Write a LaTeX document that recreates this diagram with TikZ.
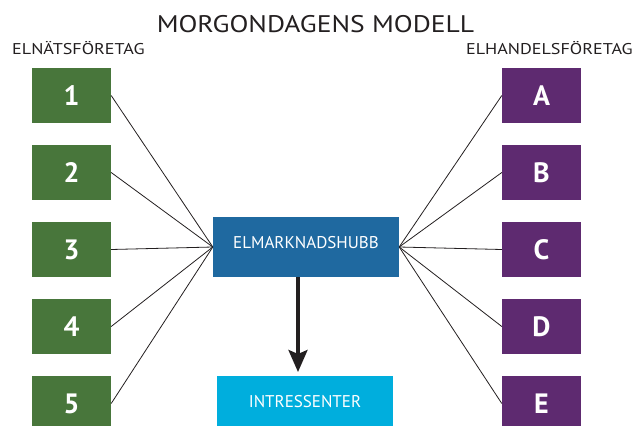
\documentclass[tikz,border=0pt]{standalone}
\usepackage{fontspec}
\setmainfont{PT Sans}
\newfontfamily\widefont{PT Sans}[FakeStretch=1.16]
\newfontfamily\titlefont{PT Sans}[FakeStretch=1.15]
\usetikzlibrary{arrows.meta}
\definecolor{grn}{RGB}{72,118,59}
\definecolor{prp}{RGB}{94,42,112}
\definecolor{hubc}{RGB}{31,105,160}
\definecolor{cyn}{RGB}{0,174,221}
\definecolor{ink}{RGB}{35,31,32}
\tikzset{
  box/.style={rectangle,minimum width=79pt,minimum height=55pt,inner sep=0pt,text=white,
    text height=19.5pt,text depth=0pt,font=\fontsize{28}{28}\selectfont\bfseries},
  gbox/.style={box,fill=grn},
  pbox/.style={box,fill=prp},
  wire/.style={draw=ink,line width=0.8pt},
  head/.style={font=\widefont\fontsize{15.6}{15.6}\selectfont,text=ink,inner sep=0pt},
}
\begin{document}
\begin{tikzpicture}[x=1pt,y=-1pt]
\useasboundingbox (0,0) rectangle (635,426);
\node[font=\titlefont\fontsize{24}{24}\selectfont,text=ink,inner sep=0pt,anchor=base] (title) at (315.5,32) {MORGONDAGENS MODELL};
\node[head,anchor=base west] (lefthead) at (12,54) {ELNÄTSFÖRETAG};
\node[head,anchor=base east] (righthead) at (633,54) {ELHANDELSFÖRETAG};
\node[rectangle,fill=hubc,minimum width=186pt,minimum height=60pt,inner sep=0pt,text=white,
  text height=12pt,text depth=10pt,font=\fontsize{17}{17}\selectfont] (hub) at (306,247) {ELMARKNADSHUBB};
\node[rectangle,fill=cyn,minimum width=176pt,minimum height=55pt,inner sep=0pt,text=white,
  text height=12pt,text depth=5pt,font=\fontsize{17}{17}\selectfont] (intr) at (305,403.5) {INTRESSENTER};
\foreach \n/\l/\y in {g1/1/95.5,g2/2/172.5,g3/3/249.5,g4/4/326.5,g5/5/403.5}{
  \node[gbox] (\n) at (71.5,\y) {\l};
  \draw[wire] (\n.east) -- (hub.west);
}
\foreach \n/\l/\y in {pa/A/95.5,pb/B/172.5,pc/C/249.5,pd/D/326.5,pe/E/403.5}{
  \node[pbox] (\n) at (541.5,\y) {\l};
  \draw[wire] (\n.west) -- (hub.east);
}
\coordinate (tip) at (298,372);
\draw[draw=ink,line width=3.5pt,-{Stealth[length=22pt,width=19pt,inset=4pt]}] (hub.south -| tip) -- (tip);
\end{tikzpicture}
\end{document}
